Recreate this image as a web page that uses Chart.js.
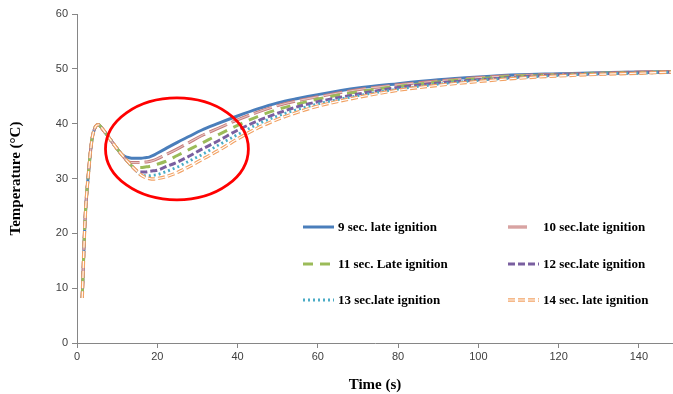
<!DOCTYPE html>
<html>
<head>
<meta charset="utf-8">
<script src="https://cdn.jsdelivr.net/npm/chart.js@4.4.1/dist/chart.umd.min.js"></script>
<style>
  html, body { margin: 0; padding: 0; background: #fff; }
  #wrap { width: 673px; height: 394px; }
</style>
</head>
<body>
<div id="wrap"><canvas id="tempChart" width="673" height="394"></canvas></div>
<script>
// time axis (s), shared by all series
const timeSec = [1.3, 2, 2.8, 3.7, 4.5, 5.3, 6.5, 8, 9.5, 11, 12, 13, 14, 15, 16, 17, 18, 19, 20, 22,
  25, 28, 31, 35, 40, 45, 50, 55, 60, 70, 80, 90, 100, 110, 120, 130, 140, 148];

// temperature (°C)
const late9 = [8.2, 22.4, 30.5, 37.0, 39.3, 39.8, 38.9, 37.4, 35.9, 34.5,
  34.0, 33.8, 33.7, 33.7, 33.7, 33.8, 33.9, 34.2, 34.6, 35.4, 36.6, 37.7, 38.8, 40.0,
  41.4, 42.7, 43.8, 44.6, 45.3, 46.5, 47.3, 48.0, 48.5, 48.9, 49.1, 49.3, 49.4, 49.5];
const late10 = [8.2, 22.4, 30.5, 37.0, 39.3, 39.8, 38.9, 37.4, 35.9, 34.5,
  33.6, 33.0, 32.9, 32.9, 32.9, 33.0, 33.1, 33.3, 33.6, 34.3, 35.4, 36.6, 37.8, 39.1,
  40.7, 42.1, 43.3, 44.2, 44.9, 46.2, 47.1, 47.8, 48.4, 48.8, 49.0, 49.2, 49.4, 49.5];
const late11 = [8.2, 22.4, 30.5, 37.0, 39.3, 39.8, 38.9, 37.4, 35.9, 34.5,
  33.6, 32.8, 32.1, 32.0, 32.0, 32.1, 32.2, 32.4, 32.6, 33.1, 34.2, 35.3, 36.4, 37.9,
  39.7, 41.3, 42.6, 43.6, 44.5, 45.8, 46.8, 47.6, 48.2, 48.7, 48.9, 49.2, 49.3, 49.5];
const late12 = [8.2, 22.4, 30.5, 37.0, 39.3, 39.8, 38.9, 37.4, 35.9, 34.5,
  33.6, 32.8, 32.0, 31.3, 31.2, 31.2, 31.3, 31.4, 31.5, 32.1, 33.0, 34.1, 35.3, 36.8,
  38.8, 40.5, 41.9, 43.1, 44.0, 45.4, 46.6, 47.4, 48.0, 48.5, 48.9, 49.1, 49.3, 49.4];
const late13 = [8.2, 22.4, 30.5, 37.0, 39.3, 39.8, 38.9, 37.4, 35.9, 34.5,
  33.6, 32.8, 32.0, 31.3, 30.6, 30.5, 30.5, 30.6, 30.7, 31.2, 32.1, 33.2, 34.3, 36.0,
  38.0, 39.9, 41.4, 42.6, 43.6, 45.1, 46.3, 47.2, 47.9, 48.4, 48.8, 49.1, 49.2, 49.4];
const late14 = [8.2, 22.4, 30.5, 37.0, 39.3, 39.8, 38.9, 37.4, 35.9, 34.5,
  33.6, 32.8, 32.0, 31.3, 30.6, 30.2, 30.0, 29.9, 30.0, 30.3, 31.1, 32.2, 33.4, 35.0,
  37.2, 39.2, 40.8, 42.1, 43.2, 44.8, 46.1, 47.0, 47.7, 48.3, 48.7, 49.0, 49.2, 49.4];

const seriesLabels = ["9 sec. late ignition", "10 sec.late ignition", "11 sec. Late ignition",
  "12 sec.late ignition", "13 sec.late ignition", "14 sec. late ignition"];

const xTicks = [0, 20, 40, 60, 80, 100, 120, 140];
const yTicks = [0, 10, 20, 30, 40, 50, 60];

// red ring around the dip, in data units (centre time, centre temp, half-widths)
const ringCentre = [24.9, 35.4];
const ringRadius = [17.8, 9.3];

const allSeries = [late9, late10, late11, late12, late13, late14];
const styles = [
  { color: "#4A7EBB", dash: [], width: 3 },
  { color: "#C77C7A", dash: [19, 5], width: 3, inner: "rgba(255,255,255,0.55)", legendLen: 21 },
  { color: "#9BBB59", dash: [10, 7], width: 3 },
  { color: "#7A5FA0", dash: [7, 3], width: 3 },
  { color: "#4BACC6", dash: [2, 3], width: 2.8 },
  { color: "#F2A264", dash: [7, 3], width: 3.4, inner: "#ffffff" },
];

const ringPlugin = {
  id: "ring",
  afterDatasetsDraw(chart) {
    const { ctx, scales } = chart;
    const cx = scales.x.getPixelForValue(ringCentre[0]);
    const cy = scales.y.getPixelForValue(ringCentre[1]);
    const rx = scales.x.getPixelForValue(ringCentre[0] + ringRadius[0]) - cx;
    const ry = cy - scales.y.getPixelForValue(ringCentre[1] + ringRadius[1]);
    ctx.save();
    ctx.strokeStyle = "#FF0000";
    ctx.lineWidth = 2.8;
    ctx.beginPath();
    ctx.ellipse(cx, cy, rx, ry, 0, 0, Math.PI * 2);
    ctx.stroke();
    ctx.restore();
  }
};

// white/light core for the "double" dashed lines
const innerLinePlugin = {
  id: "innerLine",
  afterDatasetDraw(chart, args) {
    const st = styles[args.index];
    if (!st.inner) return;
    const ctx = chart.ctx;
    const area = chart.chartArea;
    ctx.save();
    ctx.beginPath();
    ctx.rect(area.left, area.top, area.right - area.left, area.bottom - area.top);
    ctx.clip();
    ctx.strokeStyle = st.inner;
    ctx.lineWidth = 1.1;
    ctx.setLineDash(st.dash);
    ctx.lineCap = "butt";
    ctx.beginPath();
    args.meta.dataset.path(ctx);
    ctx.stroke();
    ctx.restore();
  }
};

const legendPlugin = {
  id: "boxLegend",
  afterDraw(chart) {
    const ctx = chart.ctx;
    const colX = [303, 508];
    const rowY = [227, 264, 300];
    ctx.save();
    ctx.font = "bold 13px 'Liberation Serif', 'Times New Roman', serif";
    ctx.textBaseline = "middle";
    ctx.fillStyle = "#000";
    chart.data.datasets.forEach((ds, i) => {
      const st = styles[i];
      const x = colX[i % 2];
      const y = rowY[Math.floor(i / 2)];
      const len = st.legendLen || 31;
      ctx.strokeStyle = st.color;
      ctx.lineWidth = st.width;
      ctx.setLineDash(st.dash);
      ctx.beginPath();
      ctx.moveTo(x, y);
      ctx.lineTo(x + len, y);
      ctx.stroke();
      if (st.inner) {
        ctx.strokeStyle = st.inner;
        ctx.lineWidth = 1.1;
        ctx.beginPath();
        ctx.moveTo(x, y);
        ctx.lineTo(x + len, y);
        ctx.stroke();
      }
      ctx.setLineDash([]);
      ctx.fillText(ds.label, x + 35, y + 1);
    });
    ctx.restore();
  }
};

document.addEventListener("DOMContentLoaded", () => {
  const ctx = document.getElementById("tempChart").getContext("2d");

  const datasets = allSeries.map((vals, i) => ({
    label: seriesLabels[i],
    data: timeSec.map((t, k) => ({ x: t, y: vals[k] })),
    borderColor: styles[i].color,
    borderWidth: styles[i].width,
    borderDash: styles[i].dash,
    pointRadius: 0,
    fill: false,
    cubicInterpolationMode: "monotone",
    order: allSeries.length - i,
  }));

  const tickFont = { family: "'Liberation Sans', Arial, sans-serif", size: 11 };
  const titleFont = { family: "'Liberation Serif', 'Times New Roman', serif", size: 15, weight: "bold" };

  // eslint-disable-next-line no-undef
  new Chart(ctx, {
    type: "line",
    data: { datasets },
    options: {
      responsive: false,
      animation: false,
      layout: { padding: { top: 14, right: 0, left: 0, bottom: 0 } },
      plugins: {
        legend: { display: false },
        tooltip: { enabled: false },
      },
      scales: {
        x: {
          type: "linear",
          min: 0,
          max: 148.5,
          afterBuildTicks: (scale) => { scale.ticks = xTicks.map((v) => ({ value: v })); },
          afterFit: (scale) => { scale.height = 51; },
          grid: { display: true, drawOnChartArea: false, tickLength: 5, color: "#868686" },
          border: { color: "#868686", width: 1 },
          ticks: { color: "#404040", font: tickFont, padding: 2, maxRotation: 0 },
          title: { display: true, text: "Time (s)", color: "#000", font: titleFont, padding: { top: 10, bottom: 0 } },
        },
        y: {
          min: 0,
          max: 60,
          afterBuildTicks: (scale) => { scale.ticks = yTicks.map((v) => ({ value: v })); },
          afterFit: (scale) => { scale.width = 77; },
          grid: { display: true, drawOnChartArea: false, tickLength: 5, color: "#868686" },
          border: { color: "#868686", width: 1 },
          ticks: { color: "#404040", font: tickFont, padding: 4 },
          title: { display: true, text: "Temperature (°C)", color: "#000", font: titleFont, padding: { top: 7, bottom: 0 } },
        },
      },
    },
    plugins: [innerLinePlugin, ringPlugin, legendPlugin],
  });
});
</script>
</body>
</html>
